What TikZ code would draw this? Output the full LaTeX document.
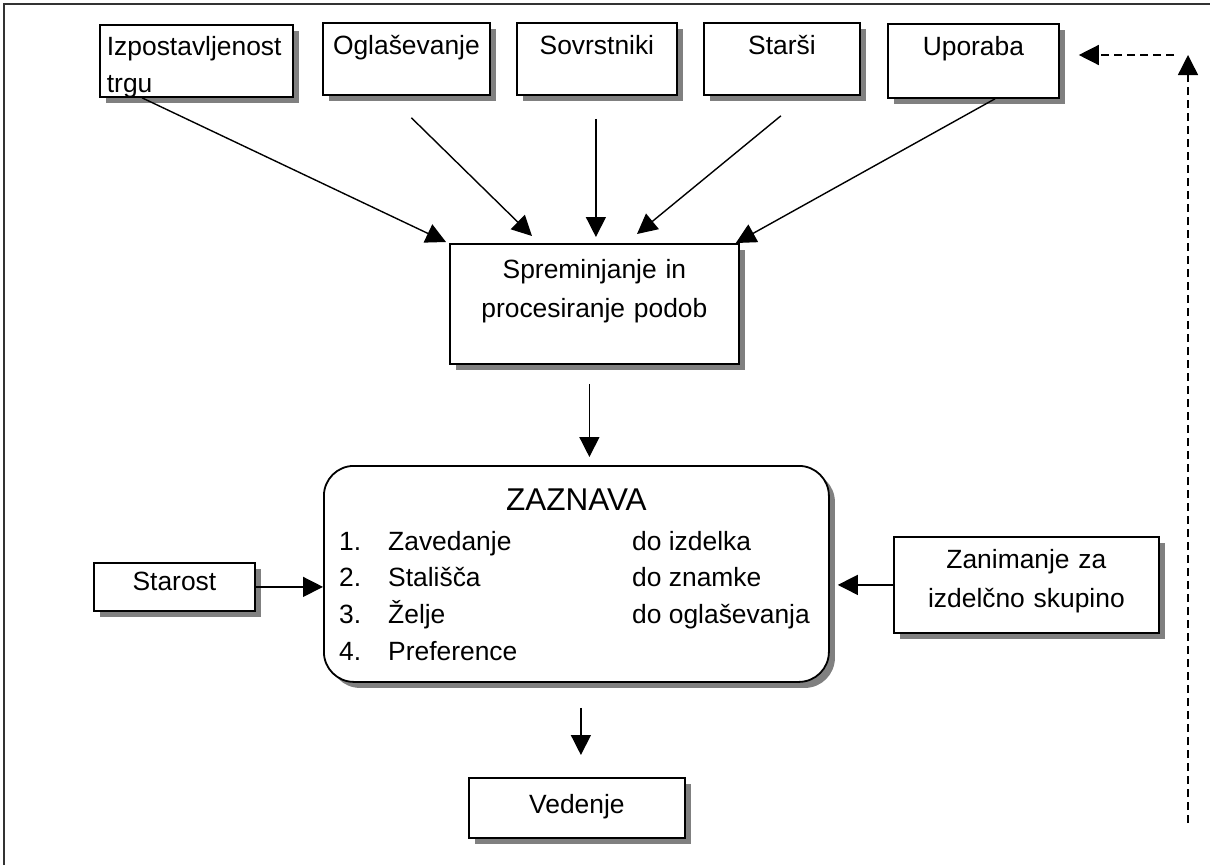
\documentclass[tikz,border=0pt]{standalone}
\usepackage{fontspec}
\setmainfont{Liberation Sans}
\usetikzlibrary{arrows.meta,shadows,calc}
\begin{document}
\begin{tikzpicture}[x=1pt,y=-1pt,
  box/.style={draw=black, line width=1.8pt, fill=white, inner sep=0pt, anchor=north west,
    general shadow={fill=black!50, shadow xshift=6pt, shadow yshift=-6pt},
    font=\fontsize{26.4}{39}\selectfont},
  arr/.style={line width=1.4pt, -{Triangle[length=20pt,width=20pt]}},
  darr/.style={arr, dash pattern=on 8pt off 5pt},
]
\useasboundingbox (0,0) rectangle (1210,865);
\draw[line width=2pt, black!80] (4,865) -- (4,4) -- (1210,4);

% top row
\node[box, text width=179pt, align=left, inner xsep=7pt, text height=31pt, text depth=41pt,
      font=\fontsize{26.4}{37}\selectfont] (izp) at (99,24) {Izpostavljenost\\trgu};
\node[box, minimum width=167pt, text height=32pt, text depth=40pt] (ogl) at (322,22) {Oglaševanje};
\node[box, minimum width=160pt, text height=32pt, text depth=40pt] (sov) at (516,22) {Sovrstniki};
\node[box, minimum width=156pt, text height=32pt, text depth=40pt] (par) at (703,22) {Starši};
\node[box, minimum width=171pt, text height=32pt, text depth=42pt] (upo) at (887,23) {Uporaba};

% middle
\node[box, text width=289pt, align=center, text height=35pt, text depth=85pt] (spr) at (449,243)
  {Spreminjanje in\\procesiranje podob};

\node[box, rounded corners=30pt, minimum width=505pt, text height=45pt, text depth=171pt,
      font=\fontsize{31.5}{36}\selectfont] (zaz) at (323,465) {ZAZNAVA};
\node[anchor=base west, inner sep=0pt, font=\fontsize{26.4}{36.7}\selectfont] (lst) at (339,550)
  {\begin{tabular}[t]{@{}l@{}l@{}l@{}}
   \makebox[49pt][l]{1.} & \makebox[244pt][l]{Zavedanje} & do izdelka\\
   \makebox[49pt][l]{2.} & \makebox[244pt][l]{Stališča} & do znamke\\
   \makebox[49pt][l]{3.} & \makebox[244pt][l]{Želje} & do oglaševanja\\
   \makebox[49pt][l]{4.} & \makebox[244pt][l]{Preference} & \\
   \end{tabular}};

\node[box, minimum width=161pt, text height=28pt, text depth=20pt] (age) at (93,562) {Starost};
\node[box, text width=265pt, align=center, text height=32pt, text depth=64pt] (zan) at (893,536)
  {Zanimanje za\\izdelčno skupino};
\node[box, minimum width=216pt, text height=36pt, text depth=24pt] (ved) at (468,777) {Vedenje};

% arrows into Spreminjanje
\draw[arr] ([xshift=43pt]izp.south west) -- ([xshift=-3pt,yshift=1pt]spr.north west);
\draw[arr] ([xshift=5pt,yshift=-22pt]ogl.south) -- ([xshift=83pt,yshift=7pt]spr.north west);
\draw[arr] ([xshift=-1pt,yshift=-23pt]sov.south) -- ([xshift=-1pt,yshift=6pt]sov.south |- spr.north);
\draw[arr] ([xshift=-1pt,yshift=-20pt]par.south) -- ([xshift=188pt,yshift=9pt]spr.north west);
\draw[arr] ([xshift=108pt]upo.south west) -- ([xshift=-4pt]spr.north east);

% vertical flow
\draw[arr, shorten <=19pt, shorten >=8pt] ([xshift=-5pt]spr.south) -- ([xshift=-5pt]spr.south |- zaz.north);
\draw[arr, shorten <=25pt, shorten >=22pt] ([xshift=4pt]ved.north |- zaz.south) -- ([xshift=4pt]ved.north);

% side inputs
\draw[arr] (age.east) -- (age.east -| zaz.west);
\draw[arr, shorten >=8pt] (zan.west) -- (zan.west -| zaz.east);

% feedback
\coordinate (fbBot) at (1188,823);
\coordinate (fbTop) at (1188,55);
\coordinate (fbRight) at (1174,55);
\draw[darr] (fbBot) -- (fbTop);
\draw[darr, shorten >=19pt] (fbRight) -- (fbRight -| upo.east);
\end{tikzpicture}
\end{document}
